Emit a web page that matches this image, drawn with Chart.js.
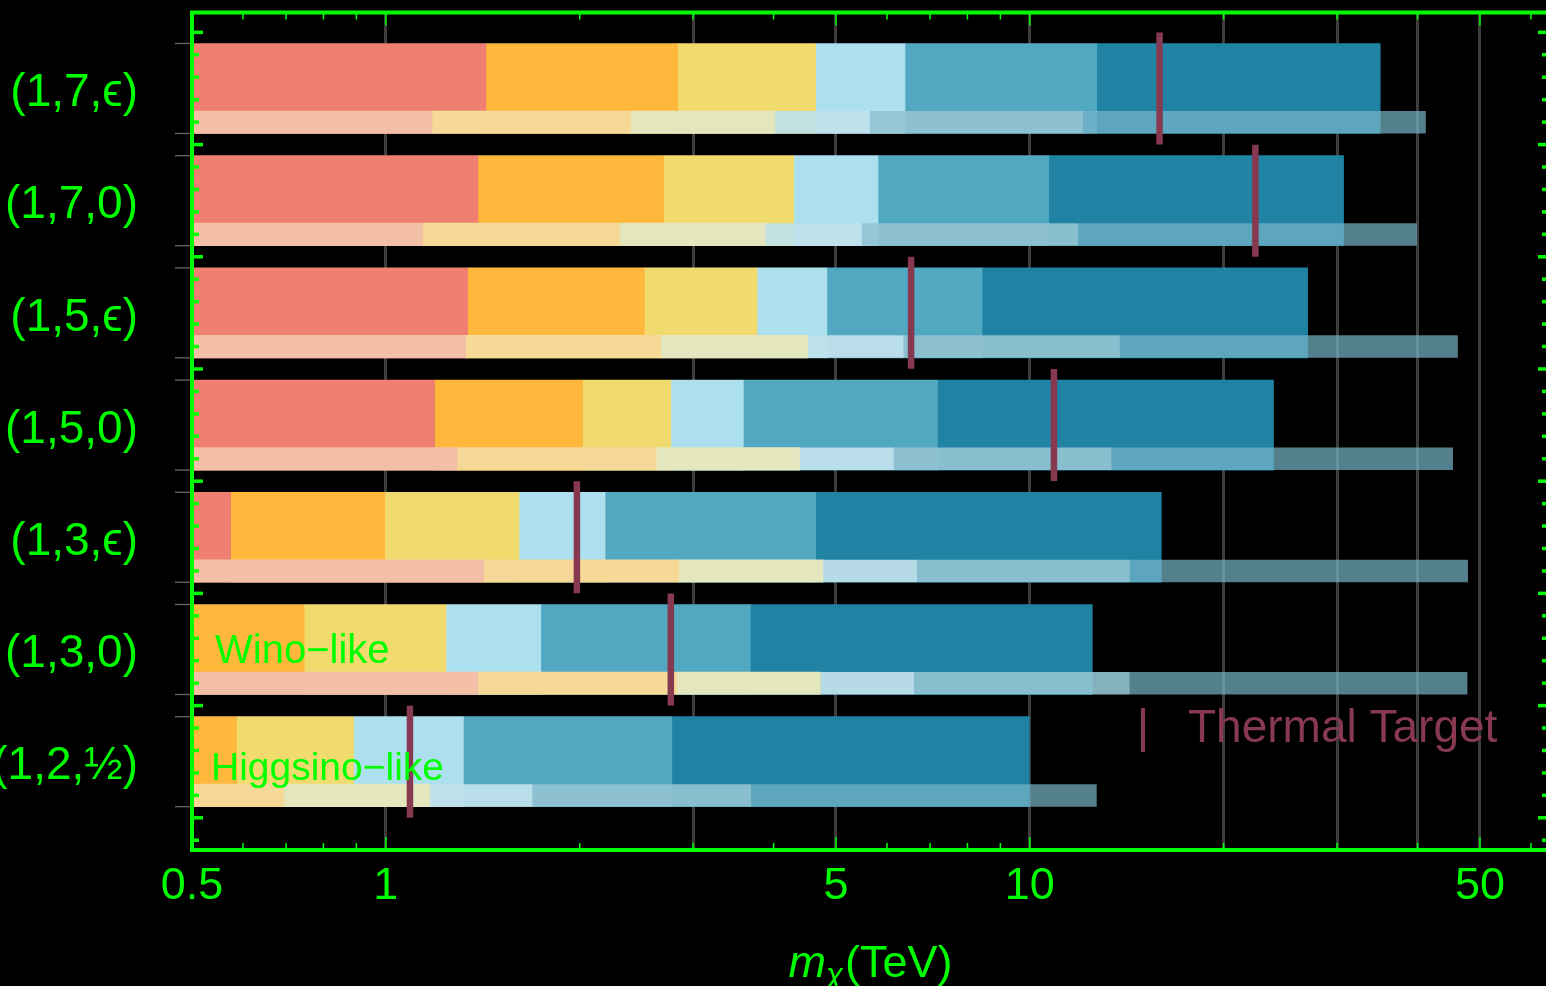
<!DOCTYPE html>
<html>
<head>
<meta charset="utf-8">
<script src="https://cdn.jsdelivr.net/npm/chart.js@4.4.0/dist/chart.umd.min.js"></script>
<style>
html, body { margin: 0; padding: 0; background: #000; overflow: hidden; }
#wrap { position: relative; width: 1560px; height: 986px; }
</style>
</head>
<body>
<div id="wrap"><canvas id="c"></canvas></div>
<script>
// ---------------- data ----------------
const rowLabels = ['(1,7,ϵ)', '(1,7,0)', '(1,5,ϵ)', '(1,5,0)', '(1,3,ϵ)', '(1,3,0)', '(1,2,½)'];

// upper edge (TeV) of each band; every band starts where the previous one ends (0.5 for the first)
const thickRed    = [1.43, 1.39, 1.34, 1.19, 0.574, 0.5, 0.5];
const thickOrange = [2.84, 2.70, 2.52, 2.02, 0.996, 0.747, 0.586];
const thickYellow = [4.65, 4.30, 3.77, 2.77, 1.61, 1.24, 0.891];
const thickLight  = [6.40, 5.81, 4.84, 3.59, 2.19, 1.74, 1.32];
const thickMid    = [12.7, 10.7, 8.43, 7.19, 4.65, 3.68, 2.78];
const thickDark   = [35.0, 30.7, 27.0, 23.9, 16.0, 12.5, 9.98];

const thinSalmon  = [1.18, 1.14, 1.33, 1.29, 1.42, 1.39, 0.5];
const thinOrange  = [2.40, 2.31, 2.67, 2.63, 2.85, 2.83, 0.694];
const thinPale    = [4.02, 3.88, 4.52, 4.39, 4.77, 4.73, 1.17];
const thinBlue    = [5.64, 5.48, 6.37, 6.15, 6.68, 6.62, 1.69];
const thinGrey    = [12.1, 11.9, 13.8, 13.4, 14.3, 14.3, 3.69];
const thinSteel   = [41.2, 39.9, 46.2, 45.4, 47.9, 47.8, 12.7];

const thermalTarget = [15.9, 22.4, 6.54, 10.9, 1.98, 2.77, 1.09];

const xTickLabels = [0.5, 1, 5, 10, 50];
const xGridValues = [1, 3, 5, 10, 20, 30, 40, 50];
const xMinorTicks = [0.6, 0.7, 0.8, 0.9, 2, 3, 4, 6, 7, 8, 9, 20, 30, 40, 60];
const xMajorTicks = [1, 5, 10, 50];

// ---------------- styling ----------------
const GREEN = '#00FF00';
const THERMAL = '#873A4F';
const FONT = "'Liberation Sans', Arial, sans-serif";

const thickSeries = [thickRed, thickOrange, thickYellow, thickLight, thickMid, thickDark];
const thickColors = ['#EE7F71', '#FFB83C', '#F1DB6F', '#ADE0EE', '#52A7C1', '#2183A4'];
const thinSeries = [thinSalmon, thinOrange, thinPale, thinBlue, thinGrey, thinSteel];
const thinColors = ['#F3C0A7', '#F6D997', '#E4E6BE',
                    'rgba(191,224,235,0.94)', 'rgba(148,196,211,0.9)', 'rgba(119,181,201,0.7)'];

const THICK_PX = 90;     // thick band (continues under the thin band)
const THIN_PX = 22.5;
const Y_MIN = -0.677, Y_MAX = 6.787;   // row index range of the plot
const THIN_SHIFT = 0.3008;             // thin band sits at the foot of the thick band

function bands(series) {
  return series.map((hiArr, k) => hiArr.map((hi, i) => ({
    x: [k === 0 ? 0.5 : series[k - 1][i], hi], y: i
  })));
}

const datasets = [];
bands(thickSeries).forEach((data, k) => datasets.push({
  type: 'bar', label: 'thick' + k, data, yAxisID: 'y', xAxisID: 'x',
  backgroundColor: thickColors[k], borderWidth: 0, grouped: false,
  barThickness: THICK_PX, order: 3
}));
bands(thinSeries).forEach((data, k) => datasets.push({
  type: 'bar', label: 'thin' + k, data, yAxisID: 'y2', xAxisID: 'x',
  backgroundColor: thinColors[k], borderWidth: 0, grouped: false,
  barThickness: THIN_PX, order: 2, inflateAmount: k >= 3 ? 0 : 'auto'
}));
datasets.push({
  type: 'scatter', label: 'Thermal Target',
  data: thermalTarget.map((v, i) => ({ x: v, y: i })),
  yAxisID: 'y', xAxisID: 'x', showLine: false, order: 1,
  pointStyle: 'line', pointRotation: 90, pointRadius: 56,
  pointBorderWidth: 6.5, pointBorderColor: THERMAL, pointBackgroundColor: THERMAL,
  borderColor: THERMAL, backgroundColor: THERMAL
});

// ---------------- decoration plugin ----------------
const decor = {
  id: 'decor',
  afterDatasetsDraw(chart) {
    const { ctx, chartArea: a, scales } = chart;
    const x = scales.x, y = scales.y, y2 = scales.y2;
    const seg = (x1, y1, x2, y2_) => { ctx.beginPath(); ctx.moveTo(x1, y1); ctx.lineTo(x2, y2_); ctx.stroke(); };
    ctx.save();

    // gray marks left of the frame at the band edges
    ctx.strokeStyle = '#666';
    ctx.lineWidth = 1.3;
    rowLabels.forEach((_, i) => {
      const top = y.getPixelForValue(i) - THICK_PX / 2;
      const bot = y2.getPixelForValue(i) + THIN_PX / 2;
      seg(a.left - 17, top, a.left - 1, top);
      seg(a.left - 17, bot, a.left - 1, bot);
    });

    // inner ticks top / bottom
    ctx.strokeStyle = GREEN;
    ctx.lineWidth = 1.5;
    xMinorTicks.concat(xMajorTicks).forEach(v => {
      const px = x.getPixelForValue(v);
      const len = xMajorTicks.includes(v) ? 13 : 7;
      seg(px, a.top, px, a.top + len);
      seg(px, a.bottom, px, a.bottom - len);
    });
    // inner ticks left / right
    ctx.lineWidth = 3.5;
    for (let m = Math.ceil((Y_MIN - 0.1) / 0.2); m <= Math.floor((Y_MAX - 0.1) / 0.2); m++) {
      const v = 0.1 + 0.2 * m;
      const py = y.getPixelForValue(v);
      const major = ((m - 2) % 5 + 5) % 5 === 0;
      const len = major ? 11 : 7;
      seg(a.left, py, a.left + len, py);
      seg(a.right, py, a.right - len, py);
    }

    // frame
    ctx.lineWidth = 4;
    ctx.strokeRect(a.left, a.top, a.right - a.left, a.bottom - a.top);

    // in-plot notes
    ctx.fillStyle = GREEN;
    ctx.textBaseline = 'alphabetic';
    ctx.textAlign = 'left';
    ctx.font = '40px ' + FONT;
    ctx.fillText('Wino−like', 215, 663);
    ctx.font = '39px ' + FONT;
    ctx.fillText('Higgsino−like', 211, 780);

    // legend
    ctx.strokeStyle = THERMAL;
    ctx.lineWidth = 4;
    seg(1143, 708, 1143, 752);
    ctx.fillStyle = THERMAL;
    ctx.font = '46px ' + FONT;
    ctx.fillText('Thermal Target', 1188, 742);

    // axis title  m_χ(TeV)
    const base = 977;
    ctx.fillStyle = GREEN;
    const fM = 'italic 45px ' + FONT, fS = 'italic 31px ' + FONT, fT = '45px ' + FONT;
    ctx.font = fM; const wM = ctx.measureText('m').width;
    ctx.font = fS; const wS = ctx.measureText('χ').width;
    ctx.font = fT; const wT = ctx.measureText('(TeV)').width;
    let cx = (a.left + a.right) / 2 - (wM + wS + 2 + wT) / 2;
    ctx.font = fM; ctx.fillText('m', cx, base); cx += wM;
    ctx.font = fS; ctx.fillText('χ', cx, base + 8); cx += wS + 2;
    ctx.font = fT; ctx.fillText('(TeV)', cx, base);

    ctx.restore();
  }
};

// ---------------- chart ----------------
new Chart(document.getElementById('c'), {
  type: 'bar',
  data: { datasets },
  plugins: [decor],
  options: {
    indexAxis: 'y',
    responsive: true,
    maintainAspectRatio: false,
    animation: false,
    events: [],
    layout: { autoPadding: false, padding: { top: 12.5, right: 11, left: 0, bottom: 0 } },
    plugins: { legend: { display: false }, tooltip: { enabled: false } },
    scales: {
      x: {
        type: 'logarithmic', position: 'bottom', min: 0.5, max: 64,
        afterBuildTicks: s => { s.ticks = xTickLabels.concat(xGridValues)
          .filter((v, i, arr) => arr.indexOf(v) === i).sort((p, q) => p - q).map(v => ({ value: v })); },
        afterFit: s => { s.height = 136; s.paddingLeft = 0; s.paddingRight = 0; },
        border: { display: false },
        grid: {
          drawTicks: false, lineWidth: 3,
          color: c => (c.tick && xGridValues.includes(c.tick.value)) ? '#3d3d3d' : 'rgba(0,0,0,0)'
        },
        ticks: {
          autoSkip: false, maxRotation: 0, padding: 9.5, color: GREEN,
          font: { family: FONT, size: 45 },
          callback: v => xTickLabels.includes(v) ? String(v) : ''
        }
      },
      y: {
        type: 'linear', position: 'left', reverse: true, min: Y_MIN, max: Y_MAX, offset: false,
        afterBuildTicks: s => { s.ticks = rowLabels.map((_, i) => ({ value: i })); },
        afterFit: s => { s.width = 192; s.paddingTop = 0; s.paddingBottom = 0; },
        border: { display: false },
        grid: { display: false, drawTicks: false },
        ticks: {
          autoSkip: false, padding: 54, labelOffset: 5, color: GREEN,
          font: { family: FONT, size: 46 },
          callback: v => rowLabels[v] !== undefined ? rowLabels[v] : ''
        }
      },
      y2: {
        type: 'linear', position: 'left', reverse: true, display: false, offset: false,
        min: Y_MIN - THIN_SHIFT, max: Y_MAX - THIN_SHIFT,
        grid: { display: false }
      }
    }
  }
});
</script>
</body>
</html>
